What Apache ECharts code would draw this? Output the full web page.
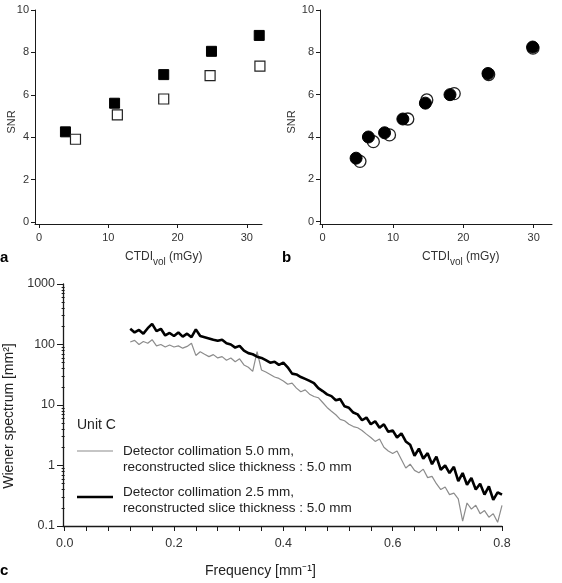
<!DOCTYPE html>
<html>
<head>
<meta charset="utf-8">
<script src="https://cdn.jsdelivr.net/npm/echarts@6/dist/echarts.min.js"></script>
<style>
html, body { margin: 0; padding: 0; background: #fff; }
#chart { width: 562px; height: 583px; }
</style>
</head>
<body>
<div id="chart"></div>
<script>
// panel a: SNR vs CTDIvol, squares
const aFilledX = [3.8, 10.9, 18.0, 24.9, 31.8]
const aFilledY = [4.25, 5.6, 6.95, 8.05, 8.8]
const aOpenX = [5.25, 11.3, 18.0, 24.7, 31.9]
const aOpenY = [3.9, 5.05, 5.8, 6.9, 7.35]

// panel b: SNR vs CTDIvol, circles
const bFilledX = [4.75, 6.5, 8.8, 11.4, 14.6, 18.1, 23.5, 29.85]
const bFilledY = [3.0, 4.0, 4.2, 4.85, 5.6, 6.0, 7.0, 8.25]
const bOpenX = [5.3, 7.2, 9.5, 12.1, 14.8, 18.7, 23.6, 29.9]
const bOpenY = [2.85, 3.78, 4.1, 4.85, 5.75, 6.05, 6.95, 8.2]

// panel c: Wiener spectrum
const freq = [0.120, 0.128, 0.136, 0.144, 0.152, 0.160, 0.168, 0.176, 0.184, 0.192,
  0.200, 0.208, 0.216, 0.224, 0.232, 0.240, 0.248, 0.256, 0.264, 0.272,
  0.280, 0.288, 0.296, 0.304, 0.312, 0.320, 0.328, 0.336, 0.344, 0.352,
  0.360, 0.368, 0.376, 0.384, 0.392, 0.400, 0.408, 0.416, 0.424, 0.432,
  0.440, 0.448, 0.456, 0.464, 0.472, 0.480, 0.488, 0.496, 0.504, 0.512,
  0.520, 0.528, 0.536, 0.544, 0.552, 0.560, 0.568, 0.576, 0.584, 0.592,
  0.600, 0.608, 0.616, 0.624, 0.632, 0.640, 0.648, 0.656, 0.664, 0.672,
  0.680, 0.688, 0.696, 0.704, 0.712, 0.720, 0.728, 0.736, 0.744, 0.752,
  0.760, 0.768, 0.776, 0.784, 0.792, 0.800]
const wsThin = [110, 117, 100, 112, 105, 120, 95, 100, 91, 98,
  91, 95, 87, 93, 105, 66, 76, 69, 63, 68,
  60, 63, 55, 60, 52, 58, 46, 42, 36, 76,
  38, 35, 32, 29, 27.5, 25, 22, 23, 19, 16.6,
  17.8, 15.1, 13.8, 13.2, 11.0, 9.1, 7.9, 6.9, 5.8, 5.5,
  4.8, 4.4, 4.2, 3.8, 3.3, 2.9, 2.5, 2.75, 2.0, 1.74,
  1.58, 1.74, 1.26, 0.91, 1.05, 0.83, 0.76, 0.87, 0.63, 0.66,
  0.50, 0.40, 0.44, 0.33, 0.35, 0.28, 0.12, 0.24, 0.19, 0.22,
  0.16, 0.18, 0.14, 0.16, 0.115, 0.22]
const wsThick = [182, 158, 174, 151, 186, 219, 166, 182, 141, 155,
  138, 158, 135, 151, 132, 178, 138, 132, 126, 120,
  115, 120, 105, 100, 89, 95, 79, 72, 69, 63,
  60, 55, 50, 52, 46, 50, 42, 33, 32, 29,
  27, 25, 23, 19, 17, 15, 14, 12.0, 12.5, 9.5,
  9.0, 7.5, 7.0, 5.6, 6.2, 4.8, 5.4, 4.2, 4.8, 3.6,
  3.8, 2.9, 3.4, 2.5, 2.2, 1.45, 1.9, 1.3, 1.6, 1.05,
  1.4, 0.85, 1.0, 0.75, 0.95, 0.55, 0.75, 0.48, 0.62, 0.40,
  0.50, 0.33, 0.45, 0.27, 0.36, 0.33]

// tick labels
const ctdiTicks = [0, 10, 20, 30]
const snrTicks = [0, 2, 4, 6, 8, 10]
const freqTicks = [0, 0.04, 0.08, 0.12, 0.16, 0.2, 0.24, 0.28, 0.32, 0.36, 0.4,
  0.44, 0.48, 0.52, 0.56, 0.6, 0.64, 0.68, 0.72, 0.76, 0.8]
const freqLabels = [0, 0.2, 0.4, 0.6, 0.8]

const font = 'Liberation Sans, Arial, sans-serif'
const ink = '#1a1a1a'

// minor ticks of the log axis, in decades
const minorLog = []
for (let d = -1; d < 3; d++) {
  for (let k = 2; k <= 9; k++) minorLog.push(d + Math.log10(k))
}

function pts (xs, ys) {
  return xs.map((x, i) => [x, ys[i]])
}

function valAxis (grid, min, max, ticks, opts) {
  return Object.assign({
    gridIndex: grid,
    type: 'value',
    min: min,
    max: max,
    axisLine: { onZero: false, lineStyle: { color: ink, width: 1 } },
    axisTick: { customValues: ticks, length: 4, lineStyle: { color: ink } },
    axisLabel: { customValues: ticks, color: '#333', fontSize: 11, fontFamily: font, margin: 8 },
    splitLine: { show: false }
  }, opts || {})
}

const chart = echarts.init(document.getElementById('chart'))

chart.setOption({
  animation: false,
  backgroundColor: '#fff',
  textStyle: { fontFamily: font },
  grid: [
    { left: 35, top: 10, width: 227, height: 214 },
    { left: 320, top: 10, width: 232, height: 214 },
    { left: 63, top: 284, width: 439, height: 242 }
  ],
  xAxis: [
    valAxis(0, -0.6, 32.2, ctdiTicks),
    valAxis(1, -0.38, 32.6, ctdiTicks),
    valAxis(2, -0.003, 0.8, freqTicks, {
      axisLine: { onZero: false, lineStyle: { color: ink, width: 1.3 } },
      axisTick: { customValues: freqTicks, length: 5, lineStyle: { color: ink } },
      axisLabel: {
        customValues: freqLabels, color: '#333', fontSize: 12.5, fontFamily: font, margin: 11,
        formatter: v => v.toFixed(1)
      }
    })
  ],
  yAxis: [
    valAxis(0, -0.1, 10, snrTicks, { axisLabel: { customValues: snrTicks, color: '#333', fontSize: 11, fontFamily: font, margin: 6 } }),
    valAxis(1, -0.11, 10, snrTicks, { axisLabel: { customValues: snrTicks, color: '#333', fontSize: 11, fontFamily: font, margin: 6 } }),
    {
      gridIndex: 2,
      type: 'log',
      logBase: 10,
      min: 0.1,
      max: 1000,
      position: 'left',
      axisLine: { onZero: false, lineStyle: { color: ink, width: 1.3 } },
      axisTick: { length: 6, lineStyle: { color: ink } },
      axisLabel: {
        color: '#333', fontSize: 12.5, fontFamily: font, margin: 8,
        formatter: v => String(Number(v.toPrecision(3)))
      },
      splitLine: { show: false }
    },
    {
      gridIndex: 2,
      type: 'value',
      min: -1,
      max: 3,
      position: 'left',
      axisLine: { show: false },
      axisTick: { customValues: minorLog, length: 3, lineStyle: { color: ink } },
      axisLabel: { show: false },
      splitLine: { show: false }
    }
  ],
  series: [
    {
      type: 'scatter', xAxisIndex: 0, yAxisIndex: 0,
      symbol: 'rect', symbolSize: 10,
      itemStyle: { color: '#000', borderColor: '#000', borderWidth: 1, opacity: 1 },
      data: pts(aFilledX, aFilledY)
    },
    {
      type: 'scatter', xAxisIndex: 0, yAxisIndex: 0,
      symbol: 'rect', symbolSize: 10,
      itemStyle: { color: '#fff', borderColor: '#222', borderWidth: 1.2, opacity: 1 },
      data: pts(aOpenX, aOpenY)
    },
    {
      type: 'scatter', xAxisIndex: 1, yAxisIndex: 1,
      symbol: 'circle', symbolSize: 12,
      itemStyle: { color: '#fff', borderColor: '#222', borderWidth: 1.3, opacity: 1 },
      data: pts(bOpenX, bOpenY)
    },
    {
      type: 'scatter', xAxisIndex: 1, yAxisIndex: 1,
      symbol: 'circle', symbolSize: 12,
      itemStyle: { color: '#000', borderColor: '#000', borderWidth: 1, opacity: 1 },
      data: pts(bFilledX, bFilledY)
    },
    {
      type: 'line', xAxisIndex: 2, yAxisIndex: 2,
      showSymbol: false,
      lineStyle: { color: '#8c8c8c', width: 1.2 },
      data: pts(freq, wsThin)
    },
    {
      type: 'line', xAxisIndex: 2, yAxisIndex: 2,
      showSymbol: false,
      lineStyle: { color: '#000', width: 2.6 },
      data: pts(freq, wsThick)
    }
  ],
  graphic: [
    // panel letters
    { type: 'text', x: 0, y: 258, style: { text: 'a', fontSize: 15, fontWeight: 'bold', fontFamily: font, fill: '#000', verticalAlign: 'middle' } },
    { type: 'text', x: 282, y: 258, style: { text: 'b', fontSize: 15, fontWeight: 'bold', fontFamily: font, fill: '#000', verticalAlign: 'middle' } },
    { type: 'text', x: 0, y: 571, style: { text: 'c', fontSize: 15, fontWeight: 'bold', fontFamily: font, fill: '#000', verticalAlign: 'middle' } },
    // axis names
    {
      type: 'text', x: 125, y: 251,
      style: {
        text: '{n|CTDI}{s|vol}{n| (mGy)}', fill: '#333', fontFamily: font,
        rich: { n: { fontSize: 12, lineHeight: 16, verticalAlign: 'top', fill: '#333' }, s: { fontSize: 10, lineHeight: 16, verticalAlign: 'bottom', fill: '#333' } }
      }
    },
    {
      type: 'text', x: 422, y: 251,
      style: {
        text: '{n|CTDI}{s|vol}{n| (mGy)}', fill: '#333', fontFamily: font,
        rich: { n: { fontSize: 12, lineHeight: 16, verticalAlign: 'top', fill: '#333' }, s: { fontSize: 10, lineHeight: 16, verticalAlign: 'bottom', fill: '#333' } }
      }
    },
    { type: 'text', x: 12, y: 122, rotation: Math.PI / 2, style: { text: 'SNR', fontSize: 11, fontFamily: font, fill: '#333', align: 'center', verticalAlign: 'middle' } },
    { type: 'text', x: 292, y: 122, rotation: Math.PI / 2, style: { text: 'SNR', fontSize: 11, fontFamily: font, fill: '#333', align: 'center', verticalAlign: 'middle' } },
    { type: 'text', x: 205, y: 571, style: { text: 'Frequency [mm⁻¹]', fontSize: 14, fontFamily: font, fill: '#222', verticalAlign: 'middle' } },
    { type: 'text', x: 9, y: 416, rotation: Math.PI / 2, style: { text: 'Wiener spectrum [mm²]', fontSize: 14, fontFamily: font, fill: '#222', align: 'center', verticalAlign: 'middle' } },
    // legend
    { type: 'text', x: 77, y: 425, style: { text: 'Unit C', fontSize: 14, fontFamily: font, fill: '#222', verticalAlign: 'middle' } },
    { type: 'line', shape: { x1: 77, y1: 451, x2: 113, y2: 451 }, style: { stroke: '#8c8c8c', lineWidth: 1.2 } },
    { type: 'text', x: 123, y: 451, style: { text: 'Detector collimation 5.0 mm,', fontSize: 13.5, fontFamily: font, fill: '#222', verticalAlign: 'middle' } },
    { type: 'text', x: 123, y: 467, style: { text: 'reconstructed slice thickness : 5.0 mm', fontSize: 13.5, fontFamily: font, fill: '#222', verticalAlign: 'middle' } },
    { type: 'line', shape: { x1: 77, y1: 497, x2: 113, y2: 497 }, style: { stroke: '#000', lineWidth: 2.6 } },
    { type: 'text', x: 123, y: 492, style: { text: 'Detector collimation 2.5 mm,', fontSize: 13.5, fontFamily: font, fill: '#222', verticalAlign: 'middle' } },
    { type: 'text', x: 123, y: 508, style: { text: 'reconstructed slice thickness : 5.0 mm', fontSize: 13.5, fontFamily: font, fill: '#222', verticalAlign: 'middle' } }
  ]
})
</script>
</body>
</html>
